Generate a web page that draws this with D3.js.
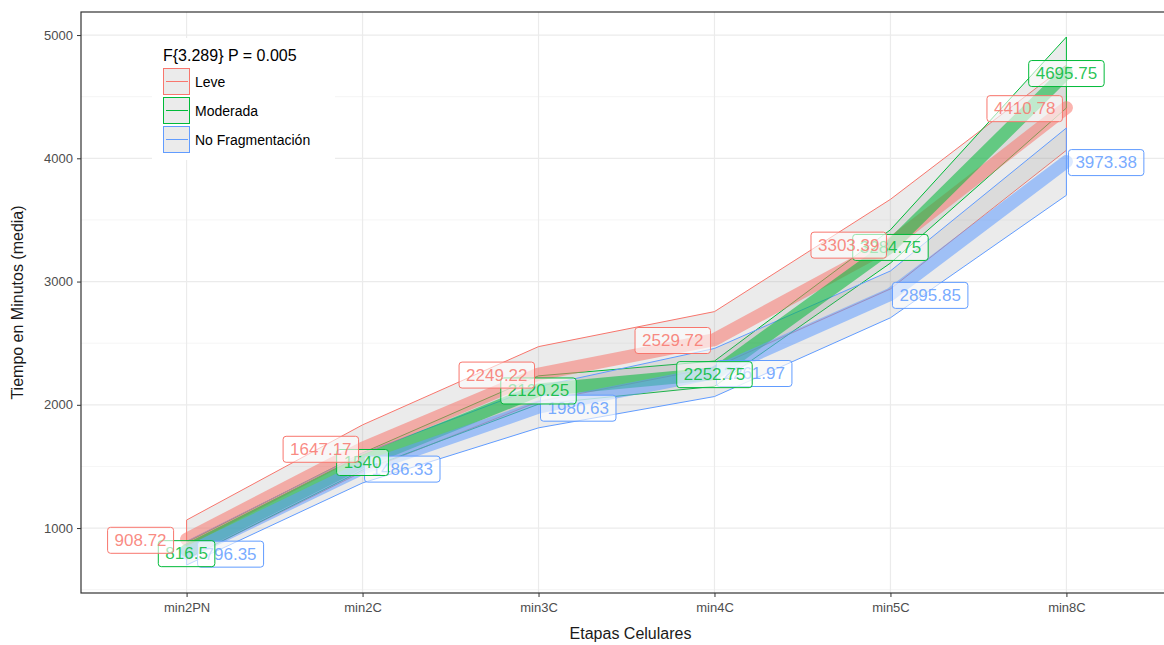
<!DOCTYPE html>
<html><head><meta charset="utf-8">
<script src="https://cdn.jsdelivr.net/npm/d3@7"></script>
<style>body{margin:0;background:#fff}svg{display:block;font-family:"Liberation Sans",Arial,sans-serif}</style>
</head><body><svg id="c" width="1164" height="645"></svg>
<script>
const stages = ["min2PN","min2C","min3C","min4C","min5C","min8C"];
const groupNames = ["Leve","Moderada","No Fragmentación"];
const groupColors = ["#F8766D","#00BA38","#619CFF"];
const leveMean = [908.72,1647.17,2249.22,2529.72,3303.39,4410.78];
const leveLow  = [753,1457,2026,2303,2940,4065];
const leveHigh = [1065,1837,2472,2756,3667,4757];
const modMean  = [816.5,1540,2120.25,2252.75,3284.75,4695.75];
const modLow   = [750,1470,2005,2150,3150,4408];
const modHigh  = [885,1610,2235,2355,3420,4984];
const nofMean  = [796.35,1486.33,1980.63,2261.97,2895.85,3973.38];
const nofLow   = [700,1366,1813,2067,2706,3700];
const nofHigh  = [892,1606,2148,2457,3086,4246];
const yTicks = [1000,2000,3000,4000,5000];
const yMinor = [500,1500,2500,3500,4500];
const legendTitle = "F{3.289} P = 0.005";

const series = [
  {name:groupNames[0], color:groupColors[0], mean:leveMean, lo:leveLow, hi:leveHigh, anchor:"end"},
  {name:groupNames[1], color:groupColors[1], mean:modMean, lo:modLow, hi:modHigh, anchor:"middle"},
  {name:groupNames[2], color:groupColors[2], mean:nofMean, lo:nofLow, hi:nofHigh, anchor:"start"}
];

const svg = d3.select("#c");
const P = {l:81, r:1172, t:12, b:593};
const x = d3.scalePoint().domain(stages).range([P.l, P.r]).padding(0.6);
const y = d3.scaleLinear().domain([473, 5187]).range([P.b, P.t]);

const g = svg.append("g");
g.append("rect").attr("x",P.l).attr("y",P.t).attr("width",P.r-P.l).attr("height",P.b-P.t).attr("fill","#fff");
g.selectAll(".ymin").data(yMinor).enter().append("line")
  .attr("x1",P.l).attr("x2",P.r).attr("y1",d=>y(d)).attr("y2",d=>y(d))
  .attr("stroke","#f2f2f2").attr("stroke-width",0.8);
g.selectAll(".ymaj").data(yTicks).enter().append("line")
  .attr("x1",P.l).attr("x2",P.r).attr("y1",d=>y(d)).attr("y2",d=>y(d))
  .attr("stroke","#ebebeb").attr("stroke-width",1.2);
g.selectAll(".xmaj").data(stages).enter().append("line")
  .attr("x1",d=>x(d)).attr("x2",d=>x(d)).attr("y1",P.t).attr("y2",P.b)
  .attr("stroke","#ebebeb").attr("stroke-width",1.2);

// ribbons
const area = d3.area().x((d,i)=>x(stages[i])).y0(d=>y(d[0])).y1(d=>y(d[1]));
series.forEach(s=>{
  const pts = stages.map((st,i)=>[s.lo[i], s.hi[i]]);
  g.append("path").attr("d", area(pts)+"Z")
    .attr("fill","#999").attr("fill-opacity",0.2)
    .attr("stroke",s.color).attr("stroke-width",1);
});

// thick mean lines
const line = d3.line().x((d,i)=>x(stages[i])).y(d=>y(d));
series.forEach(s=>{
  g.append("path").attr("d", line(s.mean)).attr("fill","none")
    .attr("stroke",s.color).attr("stroke-opacity",0.55).attr("stroke-width",13)
    .attr("stroke-linecap","round").attr("stroke-linejoin","round");
});

// labels
const fmt = v => String(+v.toFixed(2));
const lab = svg.append("g").attr("font-size",17);
[2,1,0].forEach(k=>{
  const s = series[k];
  s.mean.forEach((v,i)=>{
    const txt = fmt(v);
    const px = x(stages[i]), py = y(v);
    const t = lab.append("text").text(txt).attr("fill",s.color).attr("fill-opacity",0.85)
      .attr("dominant-baseline","central");
    const w = t.node().getComputedTextLength() + 14, h = 26;
    let cx;
    const extra = i===0 ? 9 : 0;
    if (s.anchor==="end") cx = px - 4 - extra - w/2;
    else if (s.anchor==="start") cx = px + 2 + extra + w/2;
    else cx = px;
    const dy = (s.anchor==="middle" && i===0) ? 2 : 0;
    t.attr("x",cx).attr("y",py+1+dy).attr("text-anchor","middle");
    lab.insert("rect", () => t.node())
      .attr("x",cx-w/2).attr("y",py-h/2+1+dy).attr("width",w).attr("height",h)
      .attr("rx",3).attr("fill","#fff").attr("fill-opacity",0.6)
      .attr("stroke",s.color).attr("stroke-width",1);
  });
});

svg.append("rect").attr("x",P.l).attr("y",P.t).attr("width",P.r-P.l).attr("height",P.b-P.t)
  .attr("fill","none").attr("stroke","#333").attr("stroke-width",1.2);

const ya = svg.append("g").attr("transform",`translate(${P.l},0)`)
  .call(d3.axisLeft(y).tickValues(yTicks).tickFormat(d3.format("d")).tickSize(4).tickPadding(4));
const xa = svg.append("g").attr("transform",`translate(0,${P.b})`)
  .call(d3.axisBottom(x).tickSize(4).tickPadding(6));
[ya,xa].forEach(a=>{
  a.select(".domain").remove();
  a.selectAll(".tick line").attr("stroke","#333");
  a.selectAll(".tick text").attr("fill","#4d4d4d").attr("font-size",13)
    .attr("font-family","\"Liberation Sans\",Arial,sans-serif");
});
svg.append("text").attr("x",(P.l+1164)/2+8).attr("y",639).attr("text-anchor","middle")
  .attr("font-size",16).attr("fill","#1a1a1a").text("Etapas Celulares");
svg.append("text").attr("transform",`translate(23,${(P.t+P.b)/2}) rotate(-90)`)
  .attr("text-anchor","middle").attr("font-size",16).attr("fill","#1a1a1a")
  .text("Tiempo en Minutos (media)");

const lg = svg.append("g");
lg.append("rect").attr("x",152).attr("y",38).attr("width",183).attr("height",122).attr("fill","#fff");
lg.append("text").attr("x",163).attr("y",61).attr("font-size",16).attr("fill","#000").text(legendTitle);
series.forEach((s,i)=>{
  const ky = 68 + i*29;
  lg.append("rect").attr("x",163.5).attr("y",ky+0.5).attr("width",26).attr("height",26)
    .attr("fill","#999").attr("fill-opacity",0.2).attr("stroke",s.color).attr("stroke-width",1);
  lg.append("line").attr("x1",166).attr("x2",188).attr("y1",ky+13.5).attr("y2",ky+13.5)
    .attr("stroke",s.color).attr("stroke-width",1);
  lg.append("text").attr("x",195).attr("y",ky+14).attr("dominant-baseline","central")
    .attr("font-size",14).attr("fill","#000").text(s.name);
});
</script></body></html>
